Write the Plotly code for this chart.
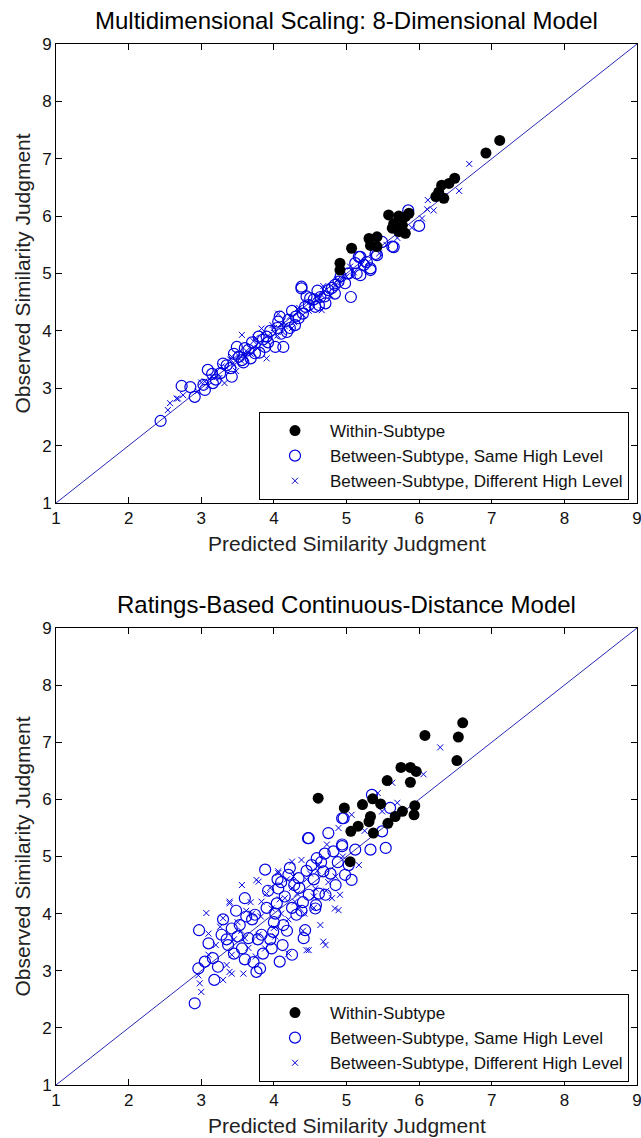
import plotly.graph_objects as go

# ---------------- Data: top panel (MDS, 8-dimensional model) ----------------
mds_within_x = [7.11, 6.92, 6.49, 6.41, 6.31, 6.27, 6.34, 6.23, 5.58, 5.72, 5.81, 5.65,
                5.77, 5.63, 5.81, 5.72, 5.42, 5.31, 5.33, 5.42, 5.07, 4.91, 4.91, 5.86]
mds_within_y = [7.32, 7.10, 6.66, 6.57, 6.54, 6.42, 6.31, 6.34, 6.02, 6.00, 5.99, 5.87,
                5.84, 5.79, 5.70, 5.73, 5.64, 5.61, 5.49, 5.47, 5.44, 5.18, 5.06, 6.05]

mds_same_x = [2.44, 2.73, 2.85, 2.91, 3.03, 3.09, 3.05, 3.16, 3.26, 3.30, 3.42, 3.49, 3.56,
              3.65, 3.74, 3.79, 3.88, 3.90, 4.02, 4.13, 4.06, 4.18, 4.20, 4.34, 4.43, 4.38,
              4.29, 4.50, 4.57, 4.64, 4.75, 4.84, 4.71, 5.06, 4.89, 5.03, 5.14, 5.24, 5.17,
              5.85, 6.00, 5.63, 5.40, 5.19, 5.12, 5.33, 5.19, 5.01, 4.98, 4.84, 5.49, 5.65,
              5.42, 5.33, 4.38, 3.35, 3.52, 3.60, 3.70, 3.85, 3.95, 4.05, 4.25, 4.40, 4.55,
              4.60, 4.70, 3.20, 3.40, 3.58, 3.80, 4.10, 4.30, 4.48, 4.80, 3.15, 3.45, 3.68,
              3.92, 4.08, 4.22, 4.45, 4.62, 4.92, 5.28]
mds_same_y = [2.43, 3.04, 3.02, 2.85, 3.06, 3.32, 2.97, 3.09, 3.26, 3.43, 3.20, 3.72, 3.49,
              3.67, 3.61, 3.90, 3.72, 3.90, 3.72, 3.72, 4.16, 3.98, 4.19, 4.22, 4.42, 4.74,
              4.10, 4.57, 4.42, 4.59, 4.71, 4.65, 4.48, 4.59, 4.86, 5.00, 5.00, 5.15, 5.29,
              6.10, 5.83, 5.47, 5.34, 5.29, 5.18, 5.06, 4.97, 5.00, 4.83, 4.80, 5.55, 5.46,
              5.32, 5.09, 4.77, 3.40, 3.55, 3.70, 3.80, 3.85, 4.00, 4.05, 4.35, 4.30, 4.55,
              4.70, 4.60, 3.15, 3.35, 3.45, 3.62, 3.95, 4.25, 4.45, 4.75, 3.25, 3.60, 3.52,
              3.80, 4.25, 4.05, 4.60, 4.45, 4.95, 5.20]

mds_diff_x = [2.54, 2.57, 2.66, 2.75, 2.68, 3.32, 3.56, 3.90, 3.83, 4.06, 4.66, 4.66, 6.69,
              6.55, 6.12, 6.11, 6.04, 2.95, 3.00, 3.10, 3.15, 3.20, 3.25, 3.35, 3.40, 3.45,
              3.50, 3.55, 3.62, 3.68, 3.72, 3.78, 3.85, 3.95, 4.00, 4.05, 4.10, 4.15, 4.22,
              4.28, 4.35, 4.40, 4.45, 4.52, 4.58, 4.62, 4.70, 4.78, 4.85, 4.92, 5.00, 5.10,
              5.20, 5.30, 5.45, 5.55, 5.70, 5.90, 6.20, 6.35, 4.25, 3.60, 3.48, 3.05, 3.28,
              3.42, 3.58, 3.75, 3.98, 4.12, 4.32, 4.48, 4.68, 4.88, 5.05]
mds_diff_y = [2.62, 2.74, 2.82, 2.88, 2.82, 3.09, 3.93, 3.52, 4.04, 4.30, 4.36, 4.62, 6.91,
              6.44, 6.28, 6.12, 5.96, 2.95, 3.10, 3.05, 3.20, 3.28, 3.18, 3.35, 3.50, 3.40,
              3.58, 3.48, 3.65, 3.60, 3.82, 3.70, 3.95, 3.88, 4.05, 3.92, 4.12, 4.08, 4.25,
              4.15, 4.40, 4.28, 4.50, 4.45, 4.60, 4.55, 4.70, 4.62, 4.80, 4.85, 4.95, 5.02,
              5.15, 5.20, 5.35, 5.50, 5.62, 5.80, 6.10, 6.35, 4.05, 3.55, 3.30, 3.12, 3.38,
              3.55, 3.60, 3.88, 4.10, 3.98, 4.38, 4.35, 4.78, 4.90, 5.12]

# ---------------- Data: bottom panel (ratings-based continuous-distance) ----------------
rb_within_x = [4.61, 6.08, 6.60, 6.54, 6.52, 5.75, 5.88, 5.96, 5.56, 5.88, 4.97, 5.22, 5.36,
               5.47, 5.33, 5.31, 5.94, 5.93, 5.77, 5.67, 5.57, 5.16, 5.06, 5.37, 5.05]
rb_within_y = [6.02, 7.12, 7.34, 7.09, 6.68, 6.56, 6.56, 6.49, 6.33, 6.30, 5.85, 5.91, 6.01,
               5.92, 5.70, 5.61, 5.89, 5.73, 5.79, 5.70, 5.58, 5.53, 5.44, 5.41, 4.91]

rb_same_x = [2.91, 2.97, 2.96, 3.16, 3.18, 3.10, 3.28, 3.37, 3.42, 3.53, 3.60, 3.74, 3.76,
             3.81, 3.88, 3.83, 3.97, 4.04, 4.06, 4.08, 3.99, 4.13, 4.20, 4.31, 4.34, 4.43,
             4.48, 4.47, 4.59, 4.68, 4.71, 4.75, 4.82, 4.94, 4.98, 5.03, 5.07, 4.94, 4.57,
             4.25, 4.41, 3.23, 3.05, 3.56, 3.65, 5.35, 5.60, 4.96, 4.48, 5.49, 5.33, 5.54,
             5.12, 4.94, 3.50, 3.70, 3.90, 4.00, 4.15, 4.25, 4.35, 4.55, 4.65, 4.85, 3.45,
             3.30, 4.10, 4.40, 4.70, 3.60, 3.95, 3.62, 3.78, 3.92, 4.02, 4.18, 4.28, 4.38,
             4.52, 4.62, 4.78, 3.48, 3.35, 3.85, 4.12, 4.45, 4.58, 4.88, 3.72, 4.22, 4.05]
rb_same_y = [2.43, 3.71, 3.04, 3.22, 2.84, 3.48, 3.63, 3.45, 3.74, 3.80, 4.27, 3.98, 2.98,
             3.04, 4.77, 3.63, 3.39, 4.18, 4.44, 3.16, 3.68, 3.80, 4.68, 3.98, 4.62, 3.71,
             4.33, 5.32, 4.97, 4.74, 4.33, 5.41, 5.09, 5.18, 4.68, 4.85, 4.59, 5.67, 4.09,
             3.28, 3.57, 3.07, 3.16, 3.39, 3.57, 6.08, 5.85, 5.67, 5.32, 5.44, 5.12, 5.15,
             5.12, 5.21, 3.60, 3.90, 4.10, 3.85, 4.30, 4.10, 4.45, 4.60, 4.90, 4.50, 3.30,
             3.90, 4.55, 4.20, 5.05, 3.20, 3.55, 3.95, 3.55, 4.40, 4.00, 3.70, 4.50, 4.05,
             4.85, 4.35, 4.70, 4.05, 3.55, 3.30, 3.45, 4.75, 4.15, 4.90, 3.15, 4.80, 4.60]

rb_diff_x = [3.07, 3.00, 2.98, 3.10, 3.30, 3.39, 3.56, 3.76, 3.83, 4.06, 4.25, 4.27, 4.38,
             4.64, 4.68, 4.71, 4.48, 4.20, 3.58, 3.39, 3.30, 3.26, 3.42, 3.60, 3.88, 3.97,
             4.15, 4.29, 4.57, 4.84, 4.91, 4.80, 4.89, 5.07, 5.17, 4.73, 3.79, 3.10, 2.96,
             3.39, 3.79, 4.06, 4.89, 4.45, 3.42, 6.29, 6.06, 5.63, 5.43, 5.70, 5.49, 3.70,
             3.90, 4.00, 4.10, 4.35, 4.45, 4.55, 4.60, 3.50, 3.65, 4.20, 4.75, 3.55, 3.68,
             3.82, 3.95, 4.08, 4.18, 4.32, 4.42, 4.50, 4.62, 4.72, 3.45, 3.62, 3.75, 4.02,
             4.25, 4.40, 4.55, 4.85, 3.20, 3.35, 4.95, 5.25]
rb_diff_y = [4.01, 2.63, 2.78, 3.65, 3.92, 4.18, 4.50, 4.59, 4.21, 4.74, 4.91, 4.65, 4.94,
             3.80, 3.51, 3.45, 3.36, 3.30, 2.95, 2.98, 2.84, 3.77, 3.28, 3.57, 3.39, 4.09,
             4.27, 4.21, 4.44, 4.09, 4.33, 4.27, 5.50, 5.73, 4.85, 5.21, 3.63, 3.28, 2.92,
             4.21, 4.56, 4.71, 4.06, 3.36, 2.95, 6.91, 6.44, 6.29, 6.11, 5.94, 5.79, 4.00,
             4.35, 3.75, 4.00, 4.10, 4.60, 4.30, 4.75, 3.85, 3.40, 3.90, 4.55, 3.70, 4.20,
             3.95, 4.45, 4.25, 4.60, 4.35, 4.00, 4.70, 4.85, 4.40, 3.55, 4.05, 3.25, 3.60,
             4.45, 3.70, 4.10, 4.65, 3.45, 3.10, 5.00, 5.45]

diag_vals = [1, 9]
tick_vals = [1, 2, 3, 4, 5, 6, 7, 8, 9]

titles = ["Multidimensional Scaling: 8-Dimensional Model",
          "Ratings-Based Continuous-Distance Model"]
x_title = "Predicted Similarity Judgment"
y_title = "Observed Similarity Judgment"
names = ["Within-Subtype", "Between-Subtype, Same High Level",
         "Between-Subtype, Different High Level"]

FONT = "Liberation Sans, Arial, sans-serif"
BLUE = "#0000e0"
LINE_BLUE = "#2828b4"

fig = go.Figure()

panels = [
    ("x", "y", "legend", mds_within_x, mds_within_y, mds_same_x, mds_same_y, mds_diff_x, mds_diff_y),
    ("x2", "y2", "legend2", rb_within_x, rb_within_y, rb_same_x, rb_same_y, rb_diff_x, rb_diff_y),
]

for xa, ya, lg, wx, wy, sx, sy, dx, dy in panels:
    fig.add_trace(go.Scatter(x=diag_vals, y=diag_vals, mode="lines", xaxis=xa, yaxis=ya,
                             line=dict(color=LINE_BLUE, width=1), showlegend=False,
                             hoverinfo="skip"))
    fig.add_trace(go.Scatter(x=dx, y=dy, mode="markers", xaxis=xa, yaxis=ya, legend=lg,
                             name=names[2], legendrank=3, legendgroup=lg + "c",
                             marker=dict(symbol="x-thin", size=6, color=BLUE,
                                         line=dict(color=BLUE, width=1))))
    fig.add_trace(go.Scatter(x=sx, y=sy, mode="markers", xaxis=xa, yaxis=ya, legend=lg,
                             name=names[1], legendrank=2, legendgroup=lg + "b",
                             marker=dict(symbol="circle-open", size=11, color=BLUE,
                                         line=dict(color=BLUE, width=1.2))))
    fig.add_trace(go.Scatter(x=wx, y=wy, mode="markers", xaxis=xa, yaxis=ya, legend=lg,
                             name=names[0], legendrank=1, legendgroup=lg + "a",
                             marker=dict(symbol="circle", size=11, color="black",
                                         line=dict(width=0))))

axis_common = dict(range=[1, 9], tickvals=tick_vals, ticks="inside", ticklen=6,
                   tickcolor="black", showline=True, linecolor="black", linewidth=1,
                   mirror="ticks", showgrid=False, zeroline=False, automargin=False,
                   ticklabeloverflow="allow",
                   tickfont=dict(family=FONT, size=17, color="#111111"))

L, R, T, B = 56, 4, 44, 53
H, W = 1138, 641
ph = H - T - B


def ydom(top_px, bot_px):
    return [(H - B - bot_px) / ph, (H - B - top_px) / ph]


top_dom = ydom(44, 503)
bot_dom = ydom(628, 1085)

legend_common = dict(bgcolor="white", bordercolor="black", borderwidth=1,
                     font=dict(family=FONT, size=17, color="#111111"),
                     xanchor="right", yanchor="bottom", x=(629 - L) / (W - L - R),
                     traceorder="grouped", tracegroupgap=0, itemwidth=60)

fig.update_layout(
    width=W, height=H,
    margin=dict(l=L, r=R, t=T, b=B),
    paper_bgcolor="white", plot_bgcolor="white",
    xaxis=dict(domain=[0, 1], anchor="y", **axis_common),
    yaxis=dict(domain=top_dom, anchor="x", **axis_common),
    xaxis2=dict(domain=[0, 1], anchor="y2", **axis_common),
    yaxis2=dict(domain=bot_dom, anchor="x2", **axis_common),
    legend=dict(y=(H - B - 500) / ph, **legend_common),
    legend2=dict(y=(H - B - 1082) / ph, **legend_common),
    showlegend=True,
)

annos = []
for title, dom in [(titles[0], top_dom), (titles[1], bot_dom)]:
    annos.append(dict(text=title, xref="paper", yref="paper", x=0.5, y=dom[1],
                      xanchor="center", yanchor="bottom", yshift=8, showarrow=False,
                      font=dict(family=FONT, size=24, color="black")))
    annos.append(dict(text=x_title, xref="paper", yref="paper", x=0.5, y=dom[0],
                      xanchor="center", yanchor="middle", yshift=-40, showarrow=False,
                      font=dict(family=FONT, size=21, color="#222222")))
    annos.append(dict(text=y_title, xref="paper", yref="paper", x=0, y=(dom[0] + dom[1]) / 2,
                      xanchor="center", yanchor="middle", xshift=-34, textangle=-90,
                      showarrow=False, font=dict(family=FONT, size=21, color="#222222")))
fig.update_layout(annotations=annos)

fig.write_html("out.html", config={"displayModeBar": False},
               post_script="document.body.style.margin='0';document.body.style.overflow='hidden';")
